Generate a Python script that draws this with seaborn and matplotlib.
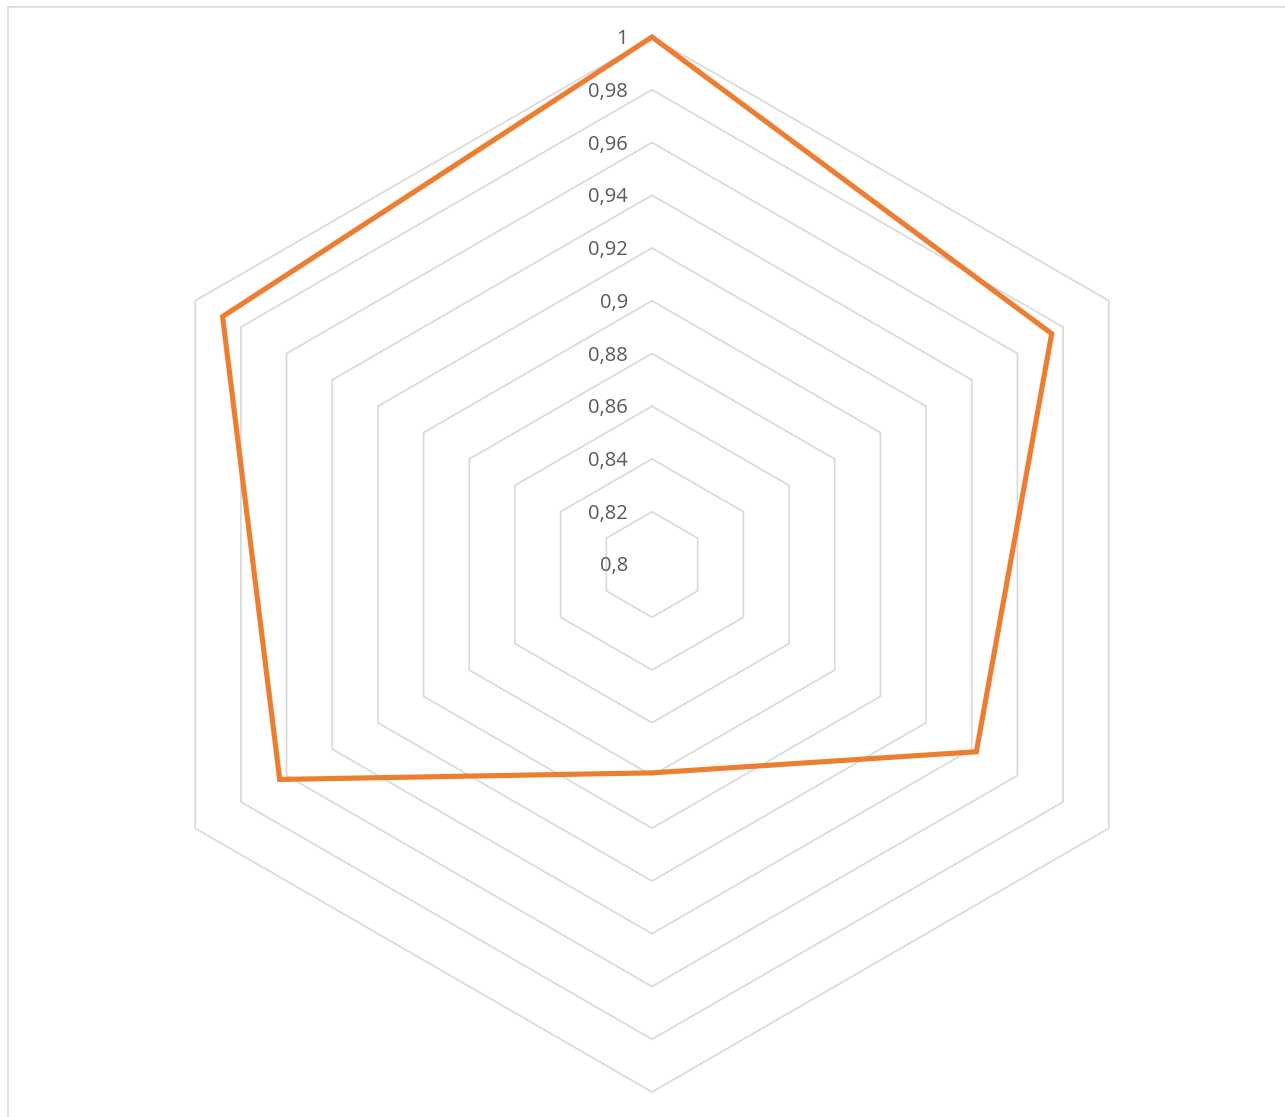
import numpy as np
import matplotlib.pyplot as plt
import seaborn as sns
from matplotlib import transforms
from matplotlib.lines import Line2D

# radar values, clockwise from the top axis
values = [1.0, 0.975, 0.942, 0.879, 0.963, 0.988]
levels = [0.82, 0.84, 0.86, 0.88, 0.90, 0.92, 0.94, 0.96, 0.98, 1.0]
level_labels = ["0,8", "0,82", "0,84", "0,86", "0,88", "0,9", "0,92", "0,94", "0,96", "0,98", "1"]
label_levels = [0.8] + levels

sns.set_style("white")
plt.rcParams['font.family'] = ['Open Sans', 'DejaVu Sans']

fig = plt.figure(figsize=(12.85, 11.17), dpi=100)
ax = fig.add_axes([124.5 / 1285, 1 - 1092 / 1117, 1055 / 1285, 1055 / 1117], projection='polar')
ax.set_theta_offset(np.pi / 2)
ax.set_theta_direction(-1)
ax.set_ylim(0.8, 1.0)
ax.grid(False)
ax.spines['polar'].set_visible(False)
ax.set_xticks([])
ax.set_yticks([])
ax.patch.set_alpha(0)

n = len(values)
theta = np.linspace(0, 2 * np.pi, n, endpoint=False)
theta_c = np.append(theta, theta[0])

# hexagonal gridlines
for lv in levels:
    ax.plot(theta_c, [lv] * (n + 1), color='#d9d9d9', linewidth=1.2, clip_on=False, zorder=1)

# data series (closed polygon)
sns.lineplot(x=theta_c, y=values + [values[0]], sort=False, estimator=None, ax=ax,
             color='#ED7D31', linewidth=3.7, solid_joinstyle='miter', clip_on=False, zorder=3)

# value labels along the top axis
off = transforms.offset_copy(ax.transData, fig=fig, x=-24, y=-2, units='dots')
for lv, lab in zip(label_levels, level_labels):
    ax.text(0, lv, lab, transform=off, ha='right', va='center', fontsize=14.5, color='#595959')

# chart area border (left and top visible)
fig.add_artist(Line2D([8 / 1285, 8 / 1285], [0, 1 - 7 / 1117], transform=fig.transFigure,
                      color='#d9d9d9', linewidth=1.2))
fig.add_artist(Line2D([8 / 1285, 1], [1 - 7 / 1117, 1 - 7 / 1117], transform=fig.transFigure,
                      color='#d9d9d9', linewidth=1.2))

fig.savefig("out.png", dpi=100)
